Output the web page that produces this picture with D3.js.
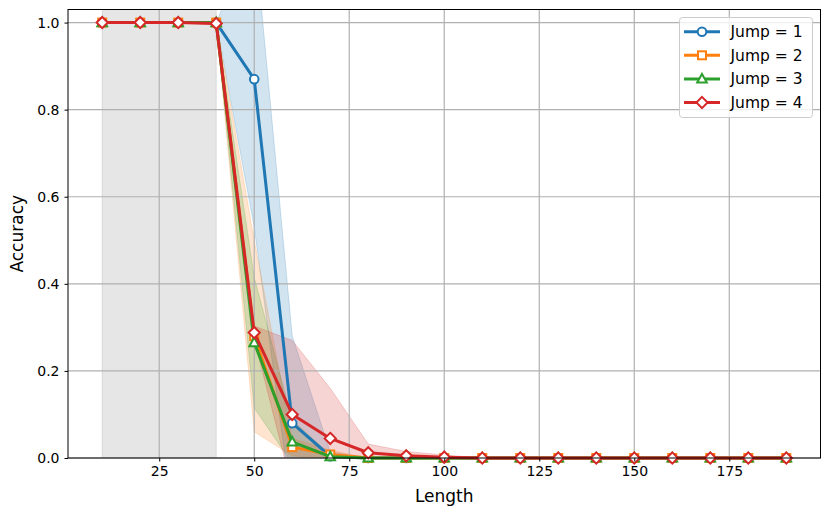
<!DOCTYPE html>
<html><head><meta charset="utf-8">
<script src="https://cdn.jsdelivr.net/npm/d3@7"></script>
<style>body{margin:0;background:#fff}svg{display:block;font-family:"DejaVu Sans",sans-serif}</style>
</head><body>
<script>
const lengths = [10,20,30,40,50,60,70,80,90,100,110,120,130,140,150,160,170,180,190];
const seriesNames = ["Jump = 1","Jump = 2","Jump = 3","Jump = 4"];
const colors = ["#1f77b4","#ff7f0e","#2ca02c","#d62728"];
const markers = ["circle","square","triangle","diamond"];
const jump1Mean = [1,1,1,1,0.87,0.08,0.004,0,0,0,0,0,0,0,0,0,0,0,0];
const jump1Std  = [0,0,0,0,0.34,0.20,0.01,0,0,0,0,0,0,0,0,0,0,0,0];
const jump2Mean = [1,1,1,1,0.28,0.025,0.008,0,0,0,0,0,0,0,0,0,0,0,0];
const jump2Std  = [0,0,0,0,0.22,0.02,0.01,0,0,0,0,0,0,0,0,0,0,0,0];
const jump3Mean = [1,1,1,1,0.265,0.037,0.003,0,0,0,0,0,0,0,0,0,0,0,0];
const jump3Std  = [0,0,0,0,0.15,0.05,0.005,0,0,0,0,0,0,0,0,0,0,0,0];
const jump4Mean = [1,1,1,0.998,0.288,0.10,0.045,0.012,0.005,0.002,0,0,0,0,0,0,0,0,0];
const jump4Std  = [0,0,0,0.004,0.015,0.17,0.115,0.02,0.01,0.005,0,0,0,0,0,0,0,0,0];
const trainRange = [10,40];
const xTicks = [25,50,75,100,125,150,175];
const yTicks = [0,0.2,0.4,0.6,0.8,1.0];
const xLabel = "Length", yLabel = "Accuracy";

const means = [jump1Mean,jump2Mean,jump3Mean,jump4Mean];
const stds = [jump1Std,jump2Std,jump3Std,jump4Std];

const W = 831, H = 517;
const L = 68, R = 820.5, T = 9.5, B = 458;
const x = d3.scaleLinear().domain([1,199]).range([L,R]);
const y = d3.scaleLinear().domain([0,1.03]).range([B,T]);

const svg = d3.select("body").append("svg").attr("width",W).attr("height",H);
svg.append("defs").append("clipPath").attr("id","clip")
  .append("rect").attr("x",L).attr("y",T).attr("width",R-L).attr("height",B-T);

const plot = svg.append("g").attr("clip-path","url(#clip)");

// training range span
plot.append("rect").attr("x",x(trainRange[0])).attr("y",T)
  .attr("width",x(trainRange[1])-x(trainRange[0])).attr("height",B-T)
  .attr("fill","#808080").attr("fill-opacity",0.2)
  .attr("stroke","#808080").attr("stroke-opacity",0.2).attr("stroke-width",1);

// bands
const area = d3.area().x(d=>x(d.x)).y0(d=>y(d.lo)).y1(d=>y(d.hi));
means.forEach((m,i)=>{
  const pts = lengths.map((l,j)=>({x:l,lo:m[j]-stds[i][j],hi:m[j]+stds[i][j]}));
  plot.append("path").attr("d",area(pts))
    .attr("fill",colors[i]).attr("fill-opacity",0.2)
    .attr("stroke",colors[i]).attr("stroke-opacity",0.2).attr("stroke-width",1);
});

// grid
const grid = svg.append("g");
xTicks.forEach(t=>grid.append("line").attr("x1",x(t)).attr("x2",x(t)).attr("y1",T).attr("y2",B)
  .attr("stroke","#b0b0b0").attr("stroke-width",1.2));
yTicks.forEach(t=>grid.append("line").attr("x1",L).attr("x2",R).attr("y1",y(t)).attr("y2",y(t))
  .attr("stroke","#b0b0b0").attr("stroke-width",1.2));

// lines & markers
const line = d3.line().x(d=>x(d[0])).y(d=>y(d[1]));
function marker(g, type, cx, cy, color){
  let el;
  if(type==="circle") el = g.append("circle").attr("cx",cx).attr("cy",cy).attr("r",4.3);
  else if(type==="square") el = g.append("rect").attr("x",cx-4).attr("y",cy-4).attr("width",8).attr("height",8);
  else if(type==="triangle") el = g.append("path").attr("d",`M${cx},${cy-5}L${cx+4.8},${cy+3.6}L${cx-4.8},${cy+3.6}Z`);
  else el = g.append("path").attr("d",`M${cx},${cy-5.6}L${cx+5.6},${cy}L${cx},${cy+5.6}L${cx-5.6},${cy}Z`);
  el.attr("fill","#fff").attr("stroke",color).attr("stroke-width",2);
}
const lg = svg.append("g");
means.forEach((m,i)=>{
  const pts = lengths.map((l,j)=>[l,m[j]]);
  const g = lg.append("g");
  g.append("path").attr("d",line(pts)).attr("fill","none").attr("stroke",colors[i])
    .attr("stroke-width",3).attr("stroke-linejoin","round").attr("stroke-linecap","square");
  pts.forEach(p=>marker(g,markers[i],x(p[0]),y(p[1]),colors[i]));
});

// axes
const xAxis = svg.append("g").attr("transform",`translate(0,${B})`)
  .call(d3.axisBottom(x).tickValues(xTicks).tickSize(3.5).tickPadding(5).tickFormat(d3.format("d")));
const yAxis = svg.append("g").attr("transform",`translate(${L},0)`)
  .call(d3.axisLeft(y).tickValues(yTicks).tickSize(3.5).tickPadding(5).tickFormat(d3.format(".1f")));
[xAxis,yAxis].forEach(a=>{
  a.select(".domain").remove();
  a.selectAll("text").attr("font-size",14).attr("fill","#000").attr("font-family","DejaVu Sans");
  a.selectAll("line").attr("stroke","#000").attr("stroke-width",1);
});
svg.append("rect").attr("x",L).attr("y",T).attr("width",R-L).attr("height",B-T)
  .attr("fill","none").attr("stroke","#000").attr("stroke-width",1);

svg.append("text").attr("x",(L+R)/2).attr("y",502).attr("text-anchor","middle")
  .attr("font-size",17).text(xLabel);
svg.append("text").attr("transform",`translate(23,${(T+B)/2}) rotate(-90)`).attr("text-anchor","middle")
  .attr("font-size",17).text(yLabel);

// legend
const leg = svg.append("g");
leg.append("rect").attr("x",679.5).attr("y",17.5).attr("width",133).attr("height",100).attr("rx",3)
  .attr("fill","#fff").attr("fill-opacity",0.8).attr("stroke","#cccccc").attr("stroke-width",1);
seriesNames.forEach((n,i)=>{
  const cy = 31.7 + i*23.6;
  leg.append("line").attr("x1",684).attr("x2",720).attr("y1",cy).attr("y2",cy)
    .attr("stroke",colors[i]).attr("stroke-width",3);
  marker(leg,markers[i],702,cy,colors[i]);
  leg.append("text").attr("x",730.5).attr("y",cy).attr("dy","0.36em")
    .attr("font-size",15.5).text(n);
});
</script>
</body></html>
